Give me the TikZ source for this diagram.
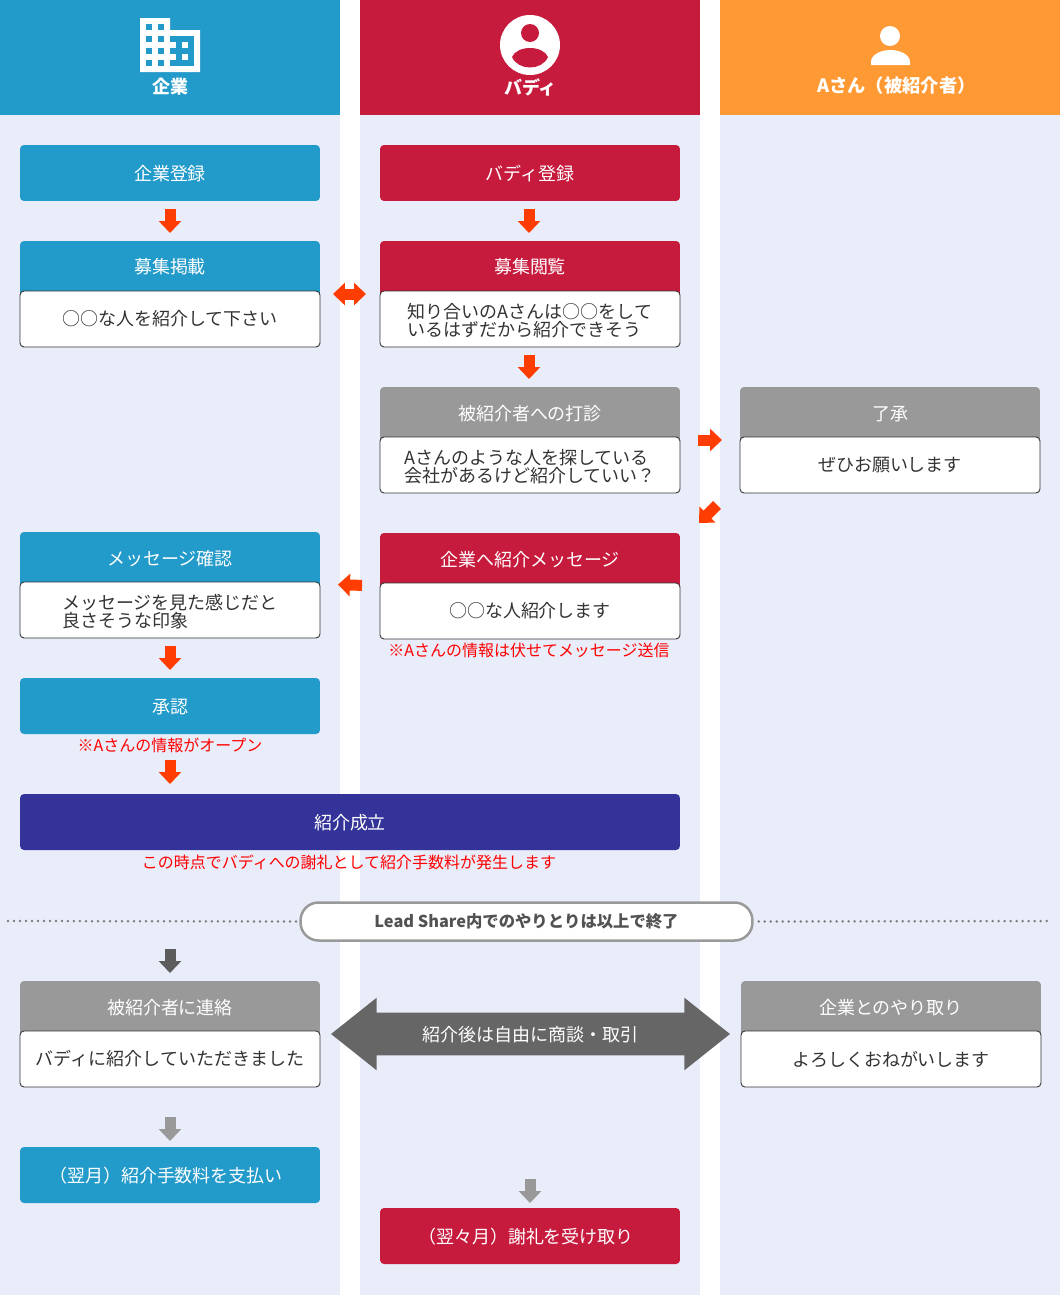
\documentclass[tikz,border=0pt]{standalone}
\usepackage{fontspec}
\setmainfont{Noto Sans CJK JP}
\usetikzlibrary{shapes.arrows, arrows.meta}
\usepackage{xcolor}
\definecolor{cblue}{HTML}{229ACA}
\definecolor{cred}{HTML}{C71B3E}
\definecolor{corange}{HTML}{FF9933}
\definecolor{cindigo}{HTML}{333399}
\definecolor{cgray}{HTML}{999999}
\definecolor{cdark}{HTML}{666666}
\definecolor{cpale}{HTML}{E9EDF9}
\definecolor{carrow}{HTML}{FF3D00}
\definecolor{ctext}{HTML}{333333}
\newcommand{\fs}[1]{\fontsize{#1}{#1}\selectfont}
\newcommand{\topline}{\rule{0pt}{0.38cm}}

\begin{document}
\begin{tikzpicture}[
  x=0.02cm, y=-0.02cm,
  colhead/.style={rectangle, minimum width=6.8cm, minimum height=2.3cm, inner sep=0pt, outer sep=0pt},
  collabel/.style={text=white, font=\fs{10.24}\bfseries, inner sep=0pt},
  flowbox/.style={rectangle, rounded corners=0.08cm, minimum width=6cm, minimum height=1.12cm,
                  inner sep=0pt, outer sep=0pt, text=white, font=\fs{10.24},
                  text height=0.36cm, text depth=0.08cm},
  headbox/.style={rectangle, rounded corners=0.08cm, anchor=north, minimum width=6cm, inner sep=0pt,
                  outer sep=0pt, text height=0.66cm, text depth=0.5cm, text=white, font=\fs{10.24}},
  bodybox/.style={rectangle, rounded corners=0.08cm, draw=ctext, line width=0.018cm, fill=white,
                  minimum width=6cm, minimum height=1.12cm, inner sep=0pt, outer sep=0pt,
                  text=ctext, font=\fs{10.24}, align=left},
  note/.style={text=red, font=\fs{9.1}, inner sep=0pt},
  arr/.style={-{Triangle[width=0.44cm, length=0.24cm]}, line width=0.22cm, carrow},
  dotline/.style={cdark!85, line width=0.055cm, line cap=round, dash pattern=on 0pt off 0.12cm}
]
  \useasboundingbox (0,0) rectangle (1060,1295);
  \fill[cpale] (0,115) rectangle (340,1295);
  \fill[cpale] (360,115) rectangle (700,1295);
  \fill[cpale] (720,115) rectangle (1060,1295);

  % column heads
  \node[colhead, fill=cblue]   (colC) at (170,57.5) {};
  \node[colhead, fill=cred]    (colB) at (530,57.5) {};
  \node[colhead, fill=corange] (colA) at (890,57.5) {};
  \node[collabel] (labC) at (170,87) {企業};
  \node[collabel] (labB) at (530.5,87) {バディ};
  \node[collabel, font=\fs{10.4}\bfseries] (labA) at (896.5,86) {Aさん（被紹介者）};

  % building
  \fill[white] (140,18) -- (170,18) -- (170,30) -- (200,30) -- (200,72) -- (140,72) -- cycle;
  \fill[cblue] (170,36) rectangle (194,66);
  \foreach \px in {146,158}
    \foreach \py in {24,36,48,60}
      \fill[cblue] (\px,\py) rectangle (\px+6,\py+6);
  \foreach \px in {170,182}
    \foreach \py in {42,54}
      \fill[white] (\px,\py) rectangle (\px+6,\py+6);

  % buddy
  \fill[white] (530,45) circle [radius=30];
  \fill[cred] (530,33) circle [radius=9];
  \fill[cred] (512,57) .. controls (517,45) and (543,45) .. (548,57)
              .. controls (542,71) and (518,71) .. (512,57) -- cycle;

  % person A
  \fill[white] (890,36) circle [radius=10];
  \fill[white] (871,65) -- (871,62) .. controls (871,54) and (882,50) .. (890.5,50)
               .. controls (899,50) and (910,54) .. (910,62) -- (910,65) -- cycle;

  % boxes
  \node[flowbox, fill=cblue] (regC) at (170,173) {企業登録};
  \node[flowbox, fill=cred]  (regB) at (530,173) {バディ登録};

  \node[headbox, fill=cblue] (postH) at (170,241) {募集掲載};
  \node[bodybox] (postT) at (170,319) {○○な人を紹介して下さい};
  \node[headbox, fill=cred] (viewH) at (530,241) {募集閲覧};
  \node[bodybox] (viewT) at (530,319) {\topline 知り合いのAさんは○○をして\\いるはずだから紹介できそう};

  \node[headbox, fill=cgray] (askH) at (530,387) {被紹介者への打診};
  \node[bodybox] (askT) at (530,465) {\topline Aさんのような人を探している\\会社があるけど紹介していい？};
  \node[headbox, fill=cgray] (okH) at (890,387) {了承};
  \node[bodybox] (okT) at (890,465) {ぜひお願いします};

  \node[headbox, fill=cblue] (readH) at (170,532) {メッセージ確認};
  \node[bodybox] (readT) at (170,610) {\topline メッセージを見た感じだと\\良さそうな印象};
  \node[headbox, fill=cred] (msgH) at (530,533) {企業へ紹介メッセージ};
  \node[bodybox] (msgT) at (530,611) {○○な人紹介します};
  \node[note] (noteB) at (529,650) {※Aさんの情報は伏せてメッセージ送信};

  \node[flowbox, fill=cblue] (apprC) at (170,706) {承認};
  \node[note] (noteC) at (170,745) {※Aさんの情報がオープン};
  \node[flowbox, fill=cindigo, minimum width=13.2cm] (doneC) at (350,822) {紹介成立};
  \node[note] (noteD) at (349,862) {この時点でバディへの謝礼として紹介手数料が発生します};

  \node[rectangle, rounded corners=0.36cm, draw=cgray, line width=0.05cm, fill=white,
        minimum width=9.04cm, minimum height=0.76cm, inner sep=0pt, text=ctext!85,
        font=\fs{9.3}\bfseries] (endP) at (526.5,921.5) {Lead Share内でのやりとりは以上で終了};
  \coordinate (dotL) at (8,921);
  \coordinate (dotR) at (1047,921);
  \draw[dotline] (dotL) -- ([xshift=-0.02cm]endP.west);
  \draw[dotline] ([xshift=0.1cm]endP.east) -- (dotR);

  \node[headbox, fill=cgray] (callH) at (170,981) {被紹介者に連絡};
  \node[bodybox] (callT) at (170,1059) {バディに紹介していただきました};
  \node[headbox, fill=cgray] (talkH) at (891,981) {企業とのやり取り};
  \node[bodybox] (talkT) at (891,1059) {よろしくおねがいします};
  \node[double arrow, fill=cdark, text=white, font=\fs{10.24}, minimum height=7.98cm, minimum width=1.44cm,
        double arrow head extend=0.3cm, double arrow tip angle=77, text height=0.36cm, text depth=0.08cm,
        inner xsep=0pt, inner ysep=0.2cm, outer sep=0pt] (freeA) at (530.5,1034) {紹介後は自由に商談・取引};

  \node[flowbox, fill=cblue] (payC) at (170,1175) {（翌月）紹介手数料を支払い\hspace*{0.16cm}};
  \node[flowbox, fill=cred]  (getB) at (530,1236) {（翌々月）謝礼を受け取り\hspace*{0.16cm}};

  % arrows
  \draw[arr, shorten <=0.16cm, shorten >=0.16cm] (regC) -- (postH);
  \draw[arr, shorten <=0.16cm, shorten >=0.16cm] ([xshift=-0.02cm]regB.south) -- ([xshift=-0.02cm]viewH.north);
  \draw[arr, shorten <=0.16cm, shorten >=0.16cm] ([xshift=-0.02cm]viewT.south) -- ([xshift=-0.02cm]askH.north);
  \draw[arr, {Triangle[width=0.44cm, length=0.24cm]}-{Triangle[width=0.44cm, length=0.24cm]},
        shorten <=0.26cm, shorten >=0.28cm] ([yshift=-0.06cm]postT.north east) -- ([yshift=-0.06cm]viewT.north west);
  \draw[arr, shorten <=0.36cm, shorten >=0.36cm] ([yshift=-0.06cm]askT.north east) -- ([yshift=-0.06cm]okT.north west);
  \coordinate (bendS) at (717,505);
  \coordinate (bendE) at (699,523);
  \draw[arr] (bendS) -- (bendE);
  \draw[arr, shorten <=0.36cm, shorten >=0.36cm] ([yshift=-0.06cm]msgT.north west) -- ([yshift=-0.04cm]readT.north east);
  \draw[arr, shorten <=0.16cm, shorten >=0.16cm] (readT) -- (apprC);
  \draw[arr, shorten <=0.52cm, shorten >=0.2cm] (apprC.south) -- (apprC.south |- doneC.north);
  \coordinate (contS) at (170,949);
  \draw[arr, draw=cdark!90!black, fill=cdark!90!black, shorten >=0.16cm] (contS) -- (callH.north);
  \draw[arr, draw=cgray, fill=cgray, shorten <=0.6cm, shorten >=0.12cm] (callT) -- (payC);
  \draw[arr, draw=cgray, fill=cgray, shorten <=2.9cm, shorten >=0.1cm] (getB.north |- freeA.center) -- (getB.north);
\end{tikzpicture}
\end{document}
